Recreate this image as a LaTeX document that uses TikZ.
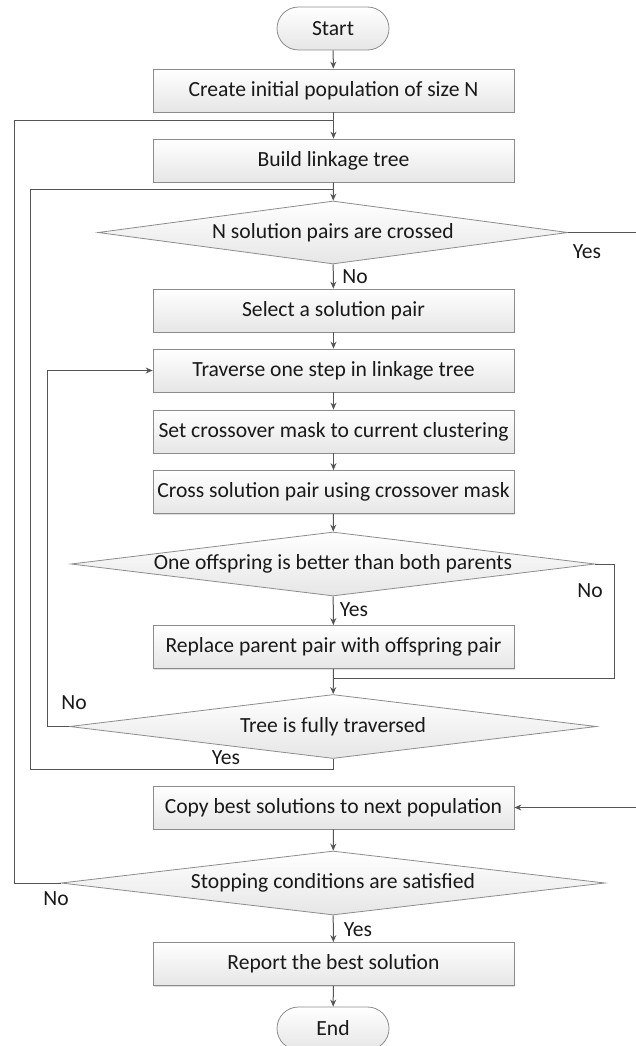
\documentclass[tikz,border=0pt]{standalone}
\usepackage{fontspec}
\setmainfont{Carlito}
\usetikzlibrary{arrows.meta,shapes.geometric,shadows}
\definecolor{linec}{HTML}{555555}
\definecolor{edgec}{HTML}{8C8C8C}
\definecolor{fillb}{HTML}{E6E6E6}
\begin{document}
\begin{tikzpicture}[x=1pt,y=-1pt,
  every node/.style={font=\fontsize{21.6}{23}\selectfont, text=black!90},
  proc/.style={rectangle, draw=edgec, line width=0.8pt, top color=white, bottom color=fillb,
    minimum width=361pt, minimum height=43pt, inner sep=0pt,
    drop shadow={shadow xshift=1.2pt, shadow yshift=-1.2pt, opacity=0.25, fill=gray}},
  term/.style={rectangle, rounded corners=21.5pt, draw=edgec, line width=0.8pt, top color=white, bottom color=fillb,
    minimum width=112pt, minimum height=43pt, inner sep=0pt},
  dec/.style={diamond, draw=edgec, line width=0.8pt, top color=white, bottom color=fillb,
    inner sep=0pt, aspect=8},
  conn/.style={draw=linec, line width=1pt},
  arr/.style={conn, -{Stealth[length=7pt,width=6pt]}},
  lbl/.style={inner sep=0pt}
]
\useasboundingbox (0,0) rectangle (635,1046);
% nodes
\node[term] (start) at (333,28.5) {Start};
\node[proc] (create) at (333.5,90.5) {Create initial population of size N};
\node[proc] (build) at (333.5,160.5) {Build linkage tree};
\node[dec, minimum width=470pt, minimum height=63pt] (d1) at (333,232.5) {N solution pairs are crossed};
\node[proc] (select) at (333.5,310.5) {Select a solution pair};
\node[proc] (trav) at (333.5,370.5) {Traverse one step in linkage tree};
\node[proc] (setm) at (333.5,431.5) {Set crossover mask to current clustering};
\node[proc] (cross) at (333.5,492) {Cross solution pair using crossover mask};
\node[dec, minimum width=524pt, minimum height=64pt] (d2) at (333,564) {One offspring is better than both parents};
\node[proc] (repl) at (333.5,647) {Replace parent pair with offspring pair};
\node[dec, minimum width=527pt, minimum height=64pt] (d3) at (333,726.5) {Tree is fully traversed};
\node[proc] (copy) at (333.5,807.5) {Copy best solutions to next population};
\node[dec, minimum width=544pt, minimum height=64pt] (d4) at (333,883) {Stopping conditions are satisfied};
\node[proc] (rep) at (333.5,964) {Report the best solution};
\node[term] (end) at (333,1028.5) {End};
% junction coordinates
\coordinate (j1) at (333,121);
\coordinate (j2) at (333,189);
\coordinate (j3) at (333,678);
\coordinate (r1) at (640,232.5);
\coordinate (r2) at (640,807.5);
\coordinate (o1) at (14,883);
\coordinate (o2) at (14,121);
\coordinate (i1) at (333,769);
\coordinate (i2) at (30,769);
\coordinate (i3) at (30,189);
\coordinate (t1) at (47,726.5);
\coordinate (t2) at (47,370.5);
\coordinate (n1) at (614,564);
\coordinate (n2) at (614,678);
% connectors
\draw[arr] (start) -- (create);
\draw[arr] (create) -- (build);
\draw[arr] (build) -- (d1);
\draw[arr] (d1) -- (select);
\draw[arr] (select) -- (trav);
\draw[arr] (trav) -- (setm);
\draw[arr] (setm) -- (cross);
\draw[arr] (cross) -- (d2);
\draw[arr] (d2) -- (repl);
\draw[arr] (repl) -- (d3);
\draw[arr] (copy) -- (d4);
\draw[arr] (d4) -- (rep);
\draw[arr] (rep) -- (end);
\draw[conn] (d1.east) -- (r1) -- (r2);
\draw[arr] (r2) -- (copy.east);
\draw[conn] (d2.east) -- (n1) -- (n2) -- (j3);
\draw[conn] (d3.west) -- (t1) -- (t2);
\draw[arr] (t2) -- (trav.west);
\draw[conn] (d3.south) -- (i1) -- (i2) -- (i3) -- (j2);
\draw[conn] (d4.west) -- (o1) -- (o2) -- (j1);
% labels
\node[lbl] (l1) at (587,252) {Yes};
\node[lbl] (l2) at (355,277) {No};
\node[lbl] (l3) at (590,591) {No};
\node[lbl] (l4) at (354,610) {Yes};
\node[lbl] (l5) at (74,703) {No};
\node[lbl] (l6) at (226,758) {Yes};
\node[lbl] (l7) at (56,899) {No};
\node[lbl] (l8) at (358,930) {Yes};
\end{tikzpicture}
\end{document}
